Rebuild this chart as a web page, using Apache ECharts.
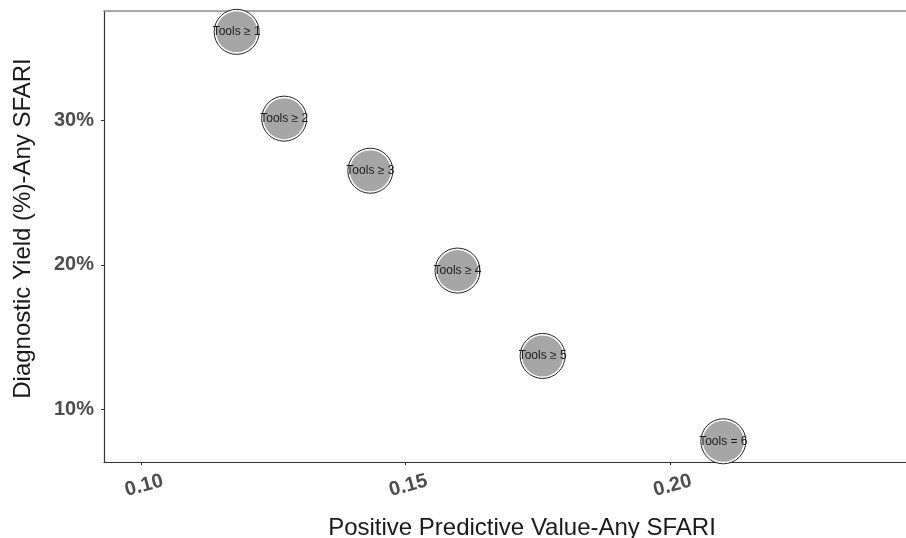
<!DOCTYPE html>
<html>
<head>
<meta charset="utf-8">
<script src="https://cdn.jsdelivr.net/npm/echarts@6/dist/echarts.min.js"></script>
<style>
html,body{margin:0;padding:0;background:#fff;}
#c{width:906px;height:538px;}
</style>
</head>
<body>
<div id="c"></div>
<script>
const pointLabels = ['Tools \u2265 1', 'Tools \u2265 2', 'Tools \u2265 3', 'Tools \u2265 4', 'Tools \u2265 5', 'Tools = 6'];
const ppv = [0.1180, 0.1270, 0.1433, 0.1598, 0.1759, 0.2101];
const yieldPct = [36.1, 30.1, 26.5, 19.6, 13.7, 7.8];
const xTicks = [0.10, 0.15, 0.20];
const yTicks = [10, 20, 30];

const pts = ppv.map((v, i) => ({ value: [v, yieldPct[i]], name: pointLabels[i] }));

const chart = echarts.init(document.getElementById('c'), null, { renderer: 'canvas' });
chart.setOption({
  animation: false,
  backgroundColor: '#ffffff',
  grid: { left: 104, top: 11, bottom: 76, right: -34, containLabel: false, outerBoundsMode: 'none' },
  xAxis: [{
    type: 'value',
    min: 0.0929, max: 0.2511,
    name: 'Positive Predictive Value-Any SFARI',
    nameLocation: 'middle',
    nameGap: 54,
    nameTextStyle: { fontFamily: 'Liberation Sans', fontSize: 24, color: '#1a1a1a' },
    axisLine: { show: true, onZero: false, lineStyle: { color: '#333', width: 1.2 } },
    axisTick: { show: true, length: 3, customValues: xTicks, lineStyle: { color: '#333' } },
    axisLabel: {
      customValues: xTicks, rotate: 15, margin: 14, align: 'center', verticalAlign: 'top',
      fontFamily: 'Liberation Sans', fontWeight: 'bold', fontSize: 20, color: '#4d4d4d',
      formatter: v => v.toFixed(2)
    },
    splitLine: { show: false }
  }, {
    type: 'value', position: 'top',
    min: 0.0929, max: 0.2511,
    axisLine: { show: true, onZero: false, lineStyle: { color: '#8c8c8c', width: 1.5 } },
    axisTick: { show: false }, axisLabel: { show: false }, splitLine: { show: false }
  }],
  yAxis: {
    type: 'value',
    min: 6.37, max: 37.54,
    name: 'Diagnostic Yield (%)-Any SFARI',
    nameLocation: 'middle',
    nameGap: 69,
    nameTextStyle: { fontFamily: 'Liberation Sans', fontSize: 24, color: '#1a1a1a', padding: [0, 0, 0, 16] },
    axisLine: { show: true, onZero: false, lineStyle: { color: '#333', width: 1.2 } },
    axisTick: { show: true, length: 3, customValues: yTicks, lineStyle: { color: '#333' } },
    axisLabel: {
      customValues: yTicks, margin: 10,
      fontFamily: 'Liberation Sans', fontWeight: 'bold', fontSize: 20, color: '#4d4d4d',
      formatter: v => Math.round(v) + '%'
    },
    splitLine: { show: false }
  },
  series: [{
    type: 'scatter',
    data: pts,
    symbolSize: 45,
    clip: false,
    itemStyle: { color: '#ffffff', borderColor: '#222', borderWidth: 1, opacity: 1 },
    z: 3
  }, {
    type: 'scatter',
    data: pts,
    symbolSize: 41,
    clip: false,
    itemStyle: { color: '#a6a6a6', opacity: 1 },
    label: {
      show: true, position: 'inside',
      formatter: p => p.name,
      fontFamily: 'Liberation Sans', fontSize: 12, color: '#1a1a1a'
    },
    z: 4
  }]
});
</script>
</body>
</html>
